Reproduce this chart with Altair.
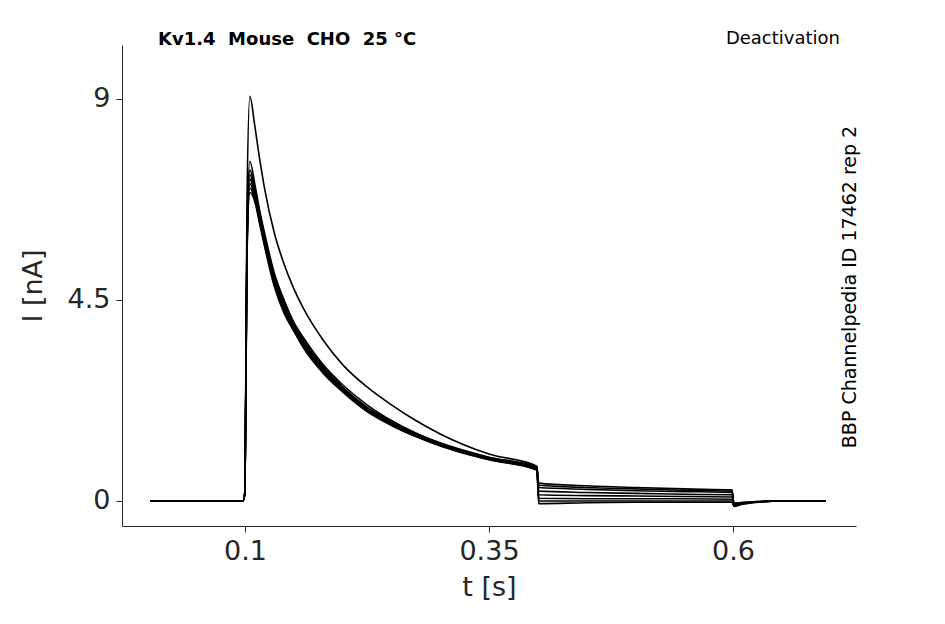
import pandas as pd
import altair as alt

t = [0.003, 0.098, 0.1, 0.102, 0.105, 0.11, 0.115, 0.12, 0.13, 0.14, 0.15, 0.16, 0.18, 0.2, 0.225, 0.25,
     0.275, 0.3, 0.35, 0.399, 0.401, 0.45, 0.5, 0.55, 0.599, 0.601, 0.61, 0.65, 0.695]

sweeps = {
    "s1": [0, 0, 0.3, 6.6, 9.05, 8.4, 7.65, 7.0, 6.0, 5.3, 4.75, 4.3, 3.6, 3.05, 2.55, 2.15, 1.8, 1.5, 1.05, 0.78,
           0.35, 0.3, 0.27, 0.24, 0.22, -0.1, -0.05, 0.0, 0.0],
    "s2": [0, 0, 0.2, 6.0, 7.6, 7.1, 6.5, 6.0, 5.1, 4.5, 4.0, 3.65, 3.05, 2.6, 2.15, 1.8, 1.52, 1.3, 0.98, 0.76,
           0.4, 0.34, 0.3, 0.27, 0.25, -0.05, -0.03, 0.0, 0.0],
    "s3": [0, 0, 0.2, 5.9, 7.4, 7.0, 6.45, 5.95, 5.05, 4.45, 3.97, 3.6, 3.0, 2.55, 2.1, 1.78, 1.5, 1.28, 0.97, 0.74,
           0.3, 0.26, 0.23, 0.21, 0.19, -0.06, -0.04, 0.0, 0.0],
    "s4": [0, 0, 0.2, 5.8, 7.3, 6.9, 6.4, 5.9, 5.0, 4.4, 3.93, 3.55, 2.97, 2.52, 2.08, 1.76, 1.48, 1.27, 0.96, 0.73,
           0.22, 0.19, 0.17, 0.15, 0.14, -0.08, -0.05, 0.0, 0.0],
    "s5": [0, 0, 0.2, 5.7, 7.2, 6.85, 6.35, 5.85, 4.95, 4.35, 3.9, 3.5, 2.94, 2.5, 2.06, 1.74, 1.47, 1.26, 0.95, 0.72,
           0.14, 0.12, 0.11, 0.1, 0.09, -0.08, -0.05, 0.0, 0.0],
    "s6": [0, 0, 0.2, 5.6, 7.1, 6.8, 6.3, 5.8, 4.9, 4.3, 3.86, 3.47, 2.91, 2.48, 2.04, 1.72, 1.46, 1.25, 0.94, 0.71,
           0.06, 0.05, 0.05, 0.05, 0.04, -0.1, -0.06, 0.0, 0.0],
    "s7": [0, 0, 0.2, 5.5, 7.0, 6.75, 6.25, 5.75, 4.85, 4.25, 3.83, 3.44, 2.88, 2.46, 2.02, 1.7, 1.45, 1.24, 0.93, 0.7,
           0.0, 0.0, 0.0, 0.0, 0.0, -0.1, -0.06, 0.0, 0.0],
    "s8": [0, 0, 0.2, 5.4, 6.9, 6.7, 6.2, 5.7, 4.8, 4.2, 3.8, 3.42, 2.86, 2.44, 2.0, 1.69, 1.44, 1.23, 0.92, 0.69,
           -0.06, -0.04, -0.03, -0.03, -0.03, -0.12, -0.07, 0.0, 0.0],
}

rows = []
for name, vals in sweeps.items():
    for i, (x, y) in enumerate(zip(t, vals)):
        rows.append({"sweep": name, "t": x, "I": y, "order": i})
df = pd.DataFrame(rows)

font = "DejaVu Sans"

lines = alt.Chart(df).mark_line(color="black", strokeWidth=1.6, interpolate="monotone").encode(
    x=alt.X("t:Q", title="t [s]", scale=alt.Scale(domain=[-0.026, 0.726], nice=False),
            axis=alt.Axis(values=[0.1, 0.35, 0.6], labelExpr="'' + datum.value")),
    y=alt.Y("I:Q", title="I [nA]", scale=alt.Scale(domain=[-0.56, 10.2], nice=False),
            axis=alt.Axis(values=[0, 4.5, 9], labelExpr="'' + datum.value")),
    detail="sweep:N",
    order="order:Q",
)

left_title = alt.Chart(pd.DataFrame({"s": ["Kv1.4\u00a0\u00a0Mouse\u00a0\u00a0CHO\u00a0\u00a025 °C"]})).mark_text(
    font=font, fontSize=18, fontWeight="bold", align="left", baseline="middle"
).encode(text="s:N", x=alt.value(36), y=alt.value(-5))

right_title = alt.Chart(pd.DataFrame({"s": ["Deactivation"]})).mark_text(
    font=font, fontSize=18, align="right", baseline="middle"
).encode(text="s:N", x=alt.value(718), y=alt.value(-6))

side = alt.Chart(pd.DataFrame({"s": ["BBP Channelpedia ID 17462 rep 2"]})).mark_text(
    font=font, fontSize=19, angle=270, align="center", baseline="middle"
).encode(text="s:N", x=alt.value(728), y=alt.value(242))

chart = alt.layer(lines, left_title, right_title, side).properties(
    width=734, height=481,
    autosize=alt.AutoSizeParams(type="none"),
    padding={"left": 114, "top": 37, "right": 80, "bottom": 90},
).configure_view(stroke=None).configure_axis(
    grid=False, labelFont=font, titleFont=font, labelFontSize=27, titleFontSize=27,
    titleFontWeight="normal", labelColor="#262626", titleColor="#262626",
    domainColor="#262626", tickColor="#262626", tickSize=6,
).configure_axisX(titlePadding=10, labelPadding=6).configure_axisY(titlePadding=20, labelPadding=6)

chart.save("out.html", embed_options={"renderer": "svg", "actions": False})
